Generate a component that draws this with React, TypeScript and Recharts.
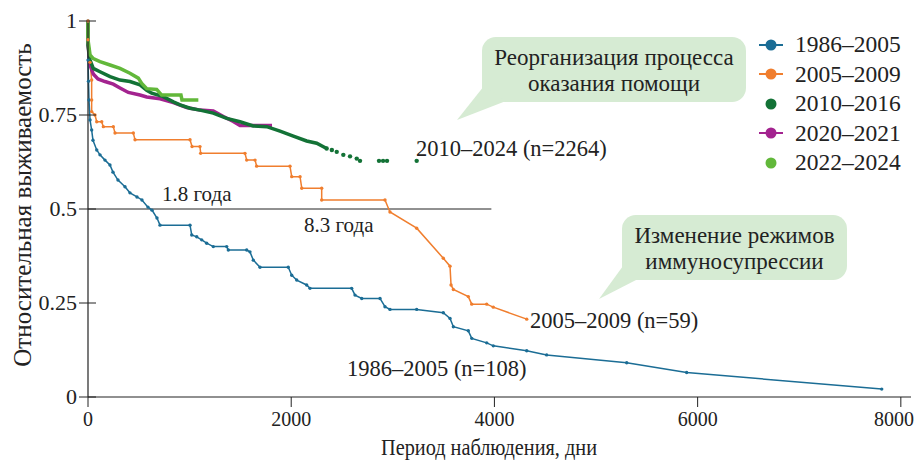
import React from "react";
import {
  LineChart,
  Line,
  XAxis,
  YAxis,
  ReferenceLine,
} from "recharts";

const FONT = "Liberation Serif, Times New Roman, serif";

const COLORS = {
  p1986: "#1b6d95", // синий
  p2005: "#f07e2e", // оранжевый
  p2010: "#137236", // тёмно-зелёный
  p2020: "#a3238f", // фиолетовый
  p2022: "#62b83a", // светло-зелёный
};

// [дни, выживаемость]
const curve1986 = [
  [0, 1], [0, 0.95], [0, 0.896], [5, 0.84], [10, 0.79], [20, 0.737], [36, 0.71],
  [49, 0.683], [86, 0.657], [118, 0.644], [167, 0.63], [216, 0.617], [246, 0.598],
  [295, 0.577], [364, 0.559], [413, 0.543], [482, 0.532], [531, 0.524], [590, 0.505],
  [630, 0.497], [679, 0.476], [709, 0.457], [1004, 0.457], [1021, 0.431], [1070, 0.426],
  [1119, 0.418], [1168, 0.409], [1233, 0.4], [1365, 0.4], [1381, 0.391], [1562, 0.391],
  [1594, 0.386], [1627, 0.364], [1693, 0.345], [1971, 0.345], [2005, 0.324],
  [2054, 0.311], [2152, 0.298], [2185, 0.289], [2595, 0.289], [2628, 0.271],
  [2694, 0.262], [2874, 0.262], [2923, 0.24], [2972, 0.233], [3235, 0.233],
  [3497, 0.224], [3563, 0.209], [3596, 0.187], [3743, 0.176], [3777, 0.156],
  [3924, 0.144], [3989, 0.136], [4318, 0.123], [4514, 0.112], [5302, 0.091],
  [5892, 0.065], [7812, 0.021],
];

const curve2005 = [
  [0, 1], [0, 0.95], [20, 0.89], [36, 0.843], [36, 0.79], [36, 0.759], [69, 0.75],
  [86, 0.732], [135, 0.732], [151, 0.719], [249, 0.719], [266, 0.702], [446, 0.702],
  [463, 0.684], [1004, 0.684], [1024, 0.666], [1102, 0.666], [1109, 0.648],
  [1545, 0.648], [1562, 0.63], [1644, 0.63], [1660, 0.614], [1988, 0.614],
  [2005, 0.586], [2087, 0.586], [2104, 0.555], [2300, 0.555], [2300, 0.524],
  [2923, 0.524], [2972, 0.492], [3235, 0.449], [3497, 0.369], [3563, 0.348],
  [3573, 0.298], [3596, 0.286], [3743, 0.267], [3777, 0.247], [3924, 0.247],
  [3989, 0.239], [4318, 0.207],
];

const curve2010 = [
  [0, 1], [0, 0.936], [20, 0.896], [52, 0.874], [118, 0.865], [217, 0.852],
  [315, 0.843], [413, 0.839], [512, 0.83], [578, 0.816], [627, 0.808], [741, 0.799],
  [840, 0.785], [906, 0.777], [1004, 0.768], [1102, 0.763], [1233, 0.755],
  [1365, 0.741], [1496, 0.732], [1627, 0.721], [1759, 0.719], [1890, 0.707],
  [2021, 0.694], [2152, 0.681], [2251, 0.675], [2349, 0.661],
];

const tail2010 = [
  [2349, 0.661], [2400, 0.657], [2448, 0.652], [2513, 0.644], [2579, 0.64],
  [2645, 0.634], [2677, 0.628], [2864, 0.628], [2904, 0.628], [2943, 0.628],
  [3235, 0.628],
];

const curve2020 = [
  [0, 1], [0, 0.936], [20, 0.883], [52, 0.859], [98, 0.846], [167, 0.839],
  [249, 0.832], [315, 0.822], [397, 0.81], [512, 0.803], [578, 0.798], [709, 0.793],
  [840, 0.783], [971, 0.77], [1102, 0.763], [1233, 0.761], [1332, 0.746],
  [1430, 0.733], [1496, 0.722], [1627, 0.722], [1811, 0.722],
];

const curve2022 = [
  [0, 1], [0, 0.95], [20, 0.91], [52, 0.9], [118, 0.892], [217, 0.883], [315, 0.874],
  [413, 0.861], [495, 0.848], [529, 0.834], [578, 0.82], [676, 0.818], [725, 0.803],
  [915, 0.803], [925, 0.79], [1086, 0.79],
];

const xTicks = [0, 2000, 4000, 6000, 8000];
const yTicks = [0, 0.25, 0.5, 0.75, 1];
const yTickLabels = ["0", "0.25", "0.5", "0.75", "1"];

const legendItems = [
  { name: "1986–2005", color: COLORS.p1986, line: true },
  { name: "2005–2009", color: COLORS.p2005, line: true },
  { name: "2010–2016", color: COLORS.p2010, line: false },
  { name: "2020–2021", color: COLORS.p2020, line: true },
  { name: "2022–2024", color: COLORS.p2022, line: false },
];

const toPts = (arr: number[][]) => arr.map(([x, y]) => ({ x, y }));

const YTick = (props: any) => {
  const { x, y, payload } = props;
  const i = yTicks.indexOf(payload.value);
  return (
    <g>
      <line x1={x - 9} x2={x + 8} y1={y} y2={y} stroke="#222" strokeWidth={1} />
      <text
        x={x - 11}
        y={y}
        dy={7}
        textAnchor="end"
        fontFamily={FONT}
        fontSize={22}
        fill="#222"
      >
        {yTickLabels[i]}
      </text>
    </g>
  );
};

const XTick = (props: any) => {
  const { x, y, payload } = props;
  // последняя подпись не должна выходить за край
  const tx = Math.min(x, 894);
  return (
    <g>
      <line x1={x} x2={x} y1={y} y2={y + 10} stroke="#222" strokeWidth={1} />
      <text x={tx} y={y + 29} textAnchor="middle" fontFamily={FONT} fontSize={20} fill="#222">
        {payload.value}
      </text>
    </g>
  );
};

const LegendBox = () => (
  <div
    style={{
      position: "absolute",
      left: 752,
      top: 30,
      width: 165,
      fontFamily: FONT,
      fontSize: 23.5,
      color: "#222",
    }}
  >
    {legendItems.map((it) => (
      <div key={it.name} style={{ height: 29.5, display: "flex", alignItems: "center" }}>
        <svg width={43} height={14}>
          {it.line && <line x1={7} x2={31} y1={7} y2={7} stroke={it.color} strokeWidth={2} />}
          <circle cx={19} cy={7} r={5.5} fill={it.color} />
        </svg>
        <span>{it.name}</span>
      </div>
    ))}
  </div>
);

const Bubble = ({ x, y, w, h, tail, lines }: any) => (
  <g>
    <rect x={x} y={y} width={w} height={h} rx={14} fill="#d6ebd3" />
    <polygon points={tail} fill="#d6ebd3" />
    {lines.map((t: string, i: number) => (
      <text
        key={i}
        x={x + w / 2}
        y={y + 28 + i * 26}
        textAnchor="middle"
        fontFamily={FONT}
        fontSize={23}
        fill="#222"
      >
        {t}
      </text>
    ))}
  </g>
);

export default function App() {
  return (
    <div style={{ position: "absolute", left: 0, top: 0, width: 917, height: 460, background: "#fff" }}>
      <LineChart
        width={917}
        height={460}
        margin={{ top: 21, right: 6, bottom: 0, left: 28 }}
      >
        <XAxis
          type="number"
          dataKey="x"
          domain={[0, 8100]}
          ticks={xTicks}
          tick={<XTick />}
          tickLine={false}
          tickSize={0}
          tickMargin={0}
          height={63}
          axisLine={{ stroke: "#222", strokeWidth: 1.2 }}
          allowDuplicatedCategory={false}
        />
        <YAxis
          type="number"
          dataKey="y"
          domain={[0, 1]}
          ticks={yTicks}
          tick={<YTick />}
          tickLine={false}
          tickSize={0}
          tickMargin={0}
          width={60}
          axisLine={{ stroke: "#222", strokeWidth: 1.2 }}
        />
        <ReferenceLine
          segment={[{ x: 0, y: 0.5 }, { x: 3970, y: 0.5 }]}
          stroke="#222"
          strokeWidth={1}
          ifOverflow="visible"
        />
        <Line
          data={toPts(curve1986)}
          dataKey="y"
          type="linear"
          stroke={COLORS.p1986}
          strokeWidth={1.5}
          dot={{ r: 1.7, fill: COLORS.p1986, stroke: "none" }}
          isAnimationActive={false}
        />
        <Line
          data={toPts(curve2005)}
          dataKey="y"
          type="linear"
          stroke={COLORS.p2005}
          strokeWidth={1.5}
          dot={{ r: 1.7, fill: COLORS.p2005, stroke: "none" }}
          isAnimationActive={false}
        />
        <Line
          data={toPts(curve2020)}
          dataKey="y"
          type="linear"
          stroke={COLORS.p2020}
          strokeWidth={3.5}
          dot={false}
          isAnimationActive={false}
        />
        <Line
          data={toPts(curve2010)}
          dataKey="y"
          type="linear"
          stroke={COLORS.p2010}
          strokeWidth={3.5}
          dot={false}
          isAnimationActive={false}
        />
        <Line
          data={toPts(tail2010)}
          dataKey="y"
          type="linear"
          stroke={COLORS.p2010}
          strokeWidth={0}
          strokeOpacity={0}
          dot={{ r: 2.2, fill: COLORS.p2010, stroke: "none" }}
          isAnimationActive={false}
        />
        <Line
          data={toPts(curve2022)}
          dataKey="y"
          type="linear"
          stroke={COLORS.p2022}
          strokeWidth={3.5}
          dot={false}
          isAnimationActive={false}
        />

        <Bubble
          x={482}
          y={37}
          w={264}
          h={65}
          tail="484,86 506,101 457,120"
          lines={["Реорганизация процесса", "оказания помощи"]}
        />
        <Bubble
          x={622}
          y={215}
          w={225}
          h={65}
          tail="623,266 638,279 599,299"
          lines={["Изменение режимов", "иммуносупрессии"]}
        />

        <g fontFamily={FONT} fontSize={22.5} fill="#222">
          <text x={416} y={156}>2010–2024 (n=2264)</text>
          <text x={530} y={328}>2005–2009 (n=59)</text>
          <text x={347} y={376}>1986–2005 (n=108)</text>
          <text x={162} y={201} fontSize={21}>1.8 года</text>
          <text x={304} y={232} fontSize={21}>8.3 года</text>
          <text
            x={489}
            y={455}
            textAnchor="middle"
            fontSize={24}
            textLength={216}
            lengthAdjust="spacingAndGlyphs"
          >
            Период наблюдения, дни
          </text>
          <text
            transform="translate(31,205) rotate(-90)"
            textAnchor="middle"
            fontSize={25}
          >
            Относительная выживаемость
          </text>
        </g>
      </LineChart>
      <LegendBox />
    </div>
  );
}
